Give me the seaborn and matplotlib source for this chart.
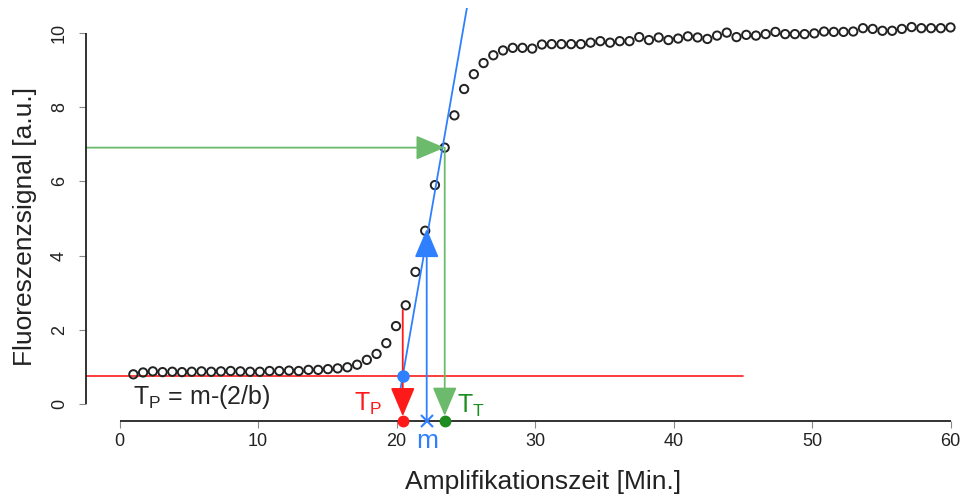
import numpy as np
import pandas as pd
import matplotlib
matplotlib.use("Agg")
import matplotlib.pyplot as plt
import seaborn as sns

# fluorescence curve, 85 readings between 1 and 60 min
time_min = np.linspace(1, 60, 85)
signal = [0.80, 0.85, 0.88, 0.86, 0.87, 0.86, 0.87, 0.88, 0.87, 0.88,
          0.89, 0.88, 0.87, 0.87, 0.89, 0.89, 0.90, 0.89, 0.92, 0.92,
          0.94, 0.96, 0.99, 1.06, 1.19, 1.35, 1.64, 2.10, 2.66, 3.56,
          4.67, 5.90, 6.91, 7.78, 8.49, 8.89, 9.19, 9.40, 9.53, 9.60,
          9.60, 9.58, 9.69, 9.70, 9.70, 9.70, 9.70, 9.74, 9.78, 9.74,
          9.78, 9.78, 9.89, 9.81, 9.88, 9.81, 9.85, 9.91, 9.88, 9.84,
          9.93, 10.01, 9.89, 9.95, 9.93, 9.97, 10.03, 9.97, 9.97, 9.97,
          9.99, 10.04, 10.03, 10.03, 10.04, 10.13, 10.11, 10.06, 10.06, 10.11,
          10.16, 10.13, 10.13, 10.13, 10.15]

# tangent through the steepest part
fit_x = [20.15, 25.15]
fit_y = [0.12, 10.82]

baseline = 0.76      # baseline level
baseline_end = 45
tp = 20.45           # T_P
m = 22.18            # inflection point
m_y = 4.72
tt = 23.48           # T_T
tt_y = 6.91
tp_top = 2.53

xticks = [0, 10, 20, 30, 40, 50, 60]
yticks = [0, 2, 4, 6, 8, 10]

red = "#ff1a1a"
blue = "#2f80ff"
green_line = "#6cbb6c"
green_dark = "#1e8c1e"

sns.set_style("white")
plt.rcParams["font.family"] = ["Liberation Sans", "DejaVu Sans"]
plt.rcParams["mathtext.fontset"] = "custom"
plt.rcParams["mathtext.rm"] = "Liberation Sans"
plt.rcParams["mathtext.it"] = "Liberation Sans"

fig = plt.figure(figsize=(9.63, 4.95), dpi=100)
ax = fig.add_axes([86 / 963, 74 / 495, 872 / 963, 413 / 495])
x0, x1 = -2.42, 60.54
y0, y1 = -0.458, 10.674
ax.set_xlim(x0, x1)
ax.set_ylim(y0, y1)

sns.scatterplot(x=time_min, y=signal, ax=ax, marker="o", s=36,
                facecolors="none", edgecolor="#222222", linewidth=1.4, zorder=3)

# lines
ax.plot([x0, baseline_end], [baseline, baseline], color=red, lw=1.2, zorder=2)
ax.plot(fit_x, fit_y, color=blue, lw=1.3, zorder=4)

arrow = "-|>,head_length=0.9,head_width=0.38"
def arr(start, end, col):
    ax.annotate("", xy=end, xytext=start,
                arrowprops=dict(arrowstyle=arrow, color=col, lw=1.3,
                                mutation_scale=20, shrinkA=0, shrinkB=0),
                annotation_clip=False, zorder=5)

arr((tp, tp_top), (tp, -0.33), red)
arr((m, y0), (m, m_y), blue)
arr((x0, tt_y), (tt, tt_y), green_line)
arr((tt, tt_y), (tt, -0.32), green_line)

# R-like axes, drawn by hand so they stop at the outer ticks
for s in ax.spines:
    ax.spines[s].set_visible(False)
ax.plot([xticks[0], xticks[-1]], [y0, y0], color="#222222", lw=1.3,
        clip_on=False, solid_capstyle="butt", zorder=5)
ax.plot([x0, x0], [yticks[0], yticks[-1]], color="#222222", lw=1.3,
        clip_on=False, solid_capstyle="butt", zorder=5)

ax.plot([tp], [baseline], "o", color=blue, ms=8, zorder=6)
ax.plot([tp], [y0], "o", color=red, ms=7.5, clip_on=False, zorder=6)
ax.plot([tt], [y0], "o", color=green_dark, ms=7.5, clip_on=False, zorder=6)
ax.plot([m], [y0], "x", color=blue, ms=8, mew=1.5, clip_on=False, zorder=6)

ax.text(1.0, 0.19, r"T$_\mathrm{P}$ = m-(2/b)", fontsize=18, va="center", ha="left")
ax.text(18.95, -0.19, r"T$_\mathrm{P}$", fontsize=18, color=red, ha="right", va="baseline")
ax.text(24.4, -0.24, r"T$_\mathrm{T}$", fontsize=18, color=green_dark, ha="left", va="baseline")
ax.text(m, -1.19, "m", fontsize=19, color=blue, ha="center", va="baseline", clip_on=False)

ax.set_xticks(xticks)
ax.set_yticks(yticks)
ax.set_yticklabels([str(v) for v in yticks], rotation=90, va="center")
ax.tick_params(axis="both", direction="out", length=5, width=0.8, color="#888888",
               labelsize=13, labelcolor="#222222", bottom=True, left=True)
ax.tick_params(axis="x", pad=4)
ax.tick_params(axis="y", pad=8)

fig.text(543 / 963, 1 - 489 / 495, "Amplifikationszeit [Min.]", fontsize=19,
         ha="center", va="baseline", color="#222222")
fig.text(25 / 963, 1 - 226 / 495, "Fluoreszenzsignal [a.u.]", fontsize=19,
         ha="center", va="center", rotation=90, color="#222222")

fig.savefig("out.png", dpi=100)
